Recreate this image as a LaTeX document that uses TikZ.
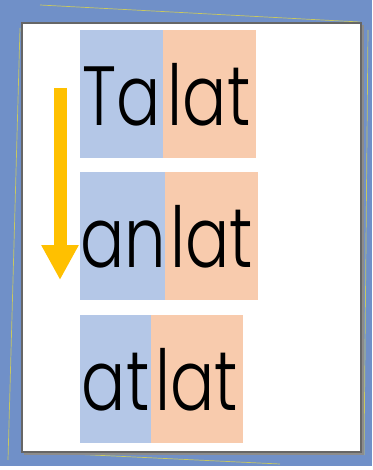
\documentclass[tikz,border=0pt]{standalone}
\usepackage{fontspec}
\newfontfamily\wordfont[FakeStretch=0.78]{Poppins Light}
\usetikzlibrary{arrows.meta,positioning}
\definecolor{frameblue}{HTML}{7090C8}
\definecolor{framegold}{HTML}{C8C860}
\definecolor{partblue}{HTML}{B4C7E7}
\definecolor{partorange}{HTML}{F8CBAD}
\definecolor{arrowyellow}{HTML}{FFC000}

\begin{document}
\begin{tikzpicture}[x=1pt,y=-1pt,
      part/.style={inner sep=0pt,minimum height=128pt,text height=95pt,text depth=33pt,
        font=\wordfont\fontsize{84}{84}\selectfont},
      pre/.style={part,fill=partblue},
      stem/.style={part,fill=partorange},
      arr/.style={-{Triangle[width=35pt,length=35pt]},line width=13pt,draw=arrowyellow}]
    \useasboundingbox (0,0) rectangle (372,470);
    % frame
    \fill[frameblue] (0,0) rectangle (372,466);
    \draw[framegold,line width=0.7pt] (40,5) -- (360,22);
    \draw[framegold,line width=0.7pt] (20,28) -- (8,460);
    \draw[framegold,line width=0.7pt] (30,452) -- (280,464);
    \draw[framegold,line width=0.7pt] (368,30) -- (364,455);
    \fill[black!45] (24,25) rectangle (364,455);
    \draw[black!60,line width=1.5pt,fill=white] (22,23) rectangle (361,452);
    % words
    \node[pre,minimum width=83pt,anchor=north west] (ta) at (80,30) {Ta};
    \node[stem,minimum width=93pt,right=-1pt of ta] (lat1) {lat};
    \node[pre,minimum width=85pt,anchor=north west] (an) at (80,172) {an};
    \node[stem,minimum width=93pt,right=-1pt of an] (lat2) {lat};
    \node[pre,minimum width=71pt,anchor=north west] (at) at (80,315) {at};
    \node[stem,minimum width=92pt,right=-1pt of at] (lat3) {lat};
    % arrow
    \coordinate (arrtop) at (60,88);
    \coordinate (arrbot) at (60,280);
    \draw[arr] (arrtop) -- (arrbot);
\end{tikzpicture}
\end{document}
